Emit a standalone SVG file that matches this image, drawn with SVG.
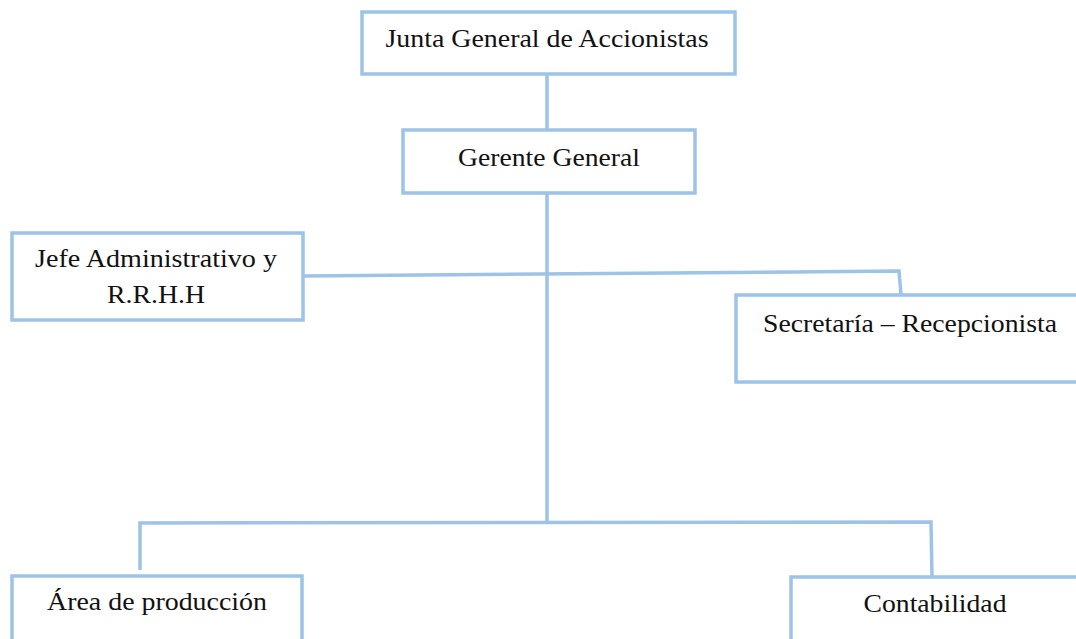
<svg xmlns="http://www.w3.org/2000/svg" width="1076" height="639" viewBox="0 0 1076 639">
<style>
.box{fill:#ffffff;stroke:#9dc3e6;stroke-width:3.5}
.con{fill:none;stroke:#9dc3e6;stroke-width:3.5}
.t{font-family:"Liberation Serif","Times New Roman",serif;font-size:26px;fill:#111111;text-anchor:middle}
</style>
<rect width="1076" height="639" fill="#ffffff"/>
<g id="connectors">
<line class="con" x1="547" y1="74" x2="547" y2="130"/>
<line class="con" x1="547" y1="193" x2="547" y2="523"/>
<polyline class="con" points="303,276 899,271 901,295"/>
<polyline class="con" points="140,570 140,523 931,522 932,577"/>
</g>
<g id="junta">
<rect class="box" x="362" y="12" width="373" height="62"/>
<text class="t" x="547" y="47" textLength="323" lengthAdjust="spacingAndGlyphs">Junta General de Accionistas</text>
</g>
<g id="gerente">
<rect class="box" x="403" y="130" width="292" height="63"/>
<text class="t" x="549" y="166" textLength="182" lengthAdjust="spacingAndGlyphs">Gerente General</text>
</g>
<g id="jefe">
<rect class="box" x="12" y="233" width="291" height="87"/>
<text class="t" x="156" y="267" textLength="242" lengthAdjust="spacingAndGlyphs">Jefe Administrativo y</text>
<text class="t" x="156" y="303" textLength="98" lengthAdjust="spacingAndGlyphs">R.R.H.H</text>
</g>
<g id="secretaria">
<rect class="box" x="736" y="295" width="360" height="87"/>
<text class="t" x="910" y="332" textLength="294" lengthAdjust="spacingAndGlyphs">Secretaría – Recepcionista</text>
</g>
<g id="produccion">
<rect class="box" x="12" y="576" width="290" height="90"/>
<text class="t" x="157" y="610" textLength="220" lengthAdjust="spacingAndGlyphs">Área de producción</text>
</g>
<g id="contabilidad">
<rect class="box" x="791" y="577" width="320" height="90"/>
<text class="t" x="935" y="612" textLength="143" lengthAdjust="spacingAndGlyphs">Contabilidad</text>
</g>
</svg>
